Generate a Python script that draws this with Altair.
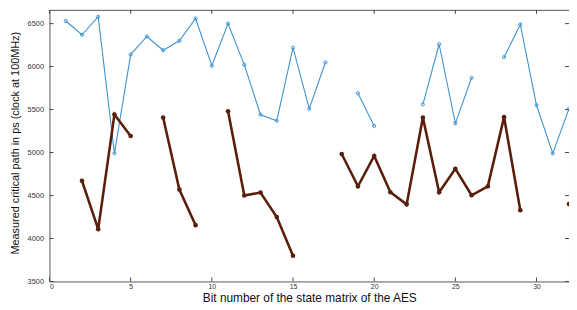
import altair as alt
import pandas as pd

bits = list(range(1, 33))
blue_vals = [6530, 6370, 6580, 4990, 6140, 6350, 6190, 6300, 6560, 6010, 6500, 6020, 5440, 5370, 6220, 5510, 6050,
             None, 5690, 5310, None, None, 5560, 6260, 5340, 5870, None, 6110, 6490, 5550, 4990, 5510]
brown_vals = [None, 4672, 4109, 5443, 5193, None, 5408, 4569, 4155, None, 5480, 4500, 4534, 4250, 3799, None, None,
              4983, 4607, 4960, 4538, 4397, 5408, 4538, 4810, 4503, 4607, 5412, 4328, None, None, 4400]
x_ticks = [0, 5, 10, 15, 20, 25, 30]
y_ticks = [3500, 4000, 4500, 5000, 5500, 6000, 6500]

W, H = 526, 275
XDOM = [0, 32]
YDOM = [3500, 6660]
FONT = "Liberation Sans"

df = pd.DataFrame({"bit": bits, "blue": blue_vals, "brown": brown_vals})

xs = alt.Scale(domain=XDOM, nice=False, zero=False)
ys = alt.Scale(domain=YDOM, nice=False, zero=False)

xaxis = alt.Axis(values=x_ticks, format="d", tickSize=0, domain=False, grid=False, labelFontSize=7,
                 labelFont=FONT, labelColor="#333", labelPadding=1,
                 title="Bit number of the state matrix of the AES",
                 titleFont=FONT, titleFontSize=12, titleFontWeight="normal", titleColor="#111",
                 titleY=11, titleBaseline="top")
yaxis = alt.Axis(values=y_ticks, format="d", tickSize=0, domain=False, grid=False, labelFontSize=7.5,
                 labelFont=FONT, labelColor="#333", labelPadding=6,
                 title="Measured critical path in ps (clock at 100MHz)",
                 titleFont=FONT, titleFontSize=11, titleFontWeight="normal", titleColor="#111",
                 titleX=-34, titleY=H / 2 - 3, titleBaseline="middle", titleAlign="center")

base = alt.Chart(df)

blue = base.mark_line(color="#3d93d1", strokeWidth=1.1, clip=True,
                      point=alt.OverlayMarkDef(shape="circle", filled=False, size=10, color="#3d93d1",
                                               strokeWidth=1)).encode(
    x=alt.X("bit:Q", scale=xs, axis=xaxis),
    y=alt.Y("blue:Q", scale=ys, axis=yaxis),
)

brown = base.mark_line(color="#5a1e0c", strokeWidth=2.6, clip=True,
                       point=alt.OverlayMarkDef(shape="circle", filled=True, size=22, color="#5a1e0c")).encode(
    x=alt.X("bit:Q", scale=xs),
    y=alt.Y("brown:Q", scale=ys),
)

xt = pd.DataFrame({"t": x_ticks})
yt = pd.DataFrame({"t": y_ticks})
tick_color = "#444"
xt_bot = alt.Chart(xt).mark_rule(color=tick_color, strokeWidth=1).encode(
    x=alt.X("t:Q", scale=xs), y=alt.value(H), y2=alt.value(H - 4))
xt_top = alt.Chart(xt).mark_rule(color=tick_color, strokeWidth=1).encode(
    x=alt.X("t:Q", scale=xs), y=alt.value(0), y2=alt.value(4))
yt_left = alt.Chart(yt).mark_rule(color=tick_color, strokeWidth=1).encode(
    y=alt.Y("t:Q", scale=ys), x=alt.value(0), x2=alt.value(4))
yt_right = alt.Chart(yt).mark_rule(color=tick_color, strokeWidth=1).encode(
    y=alt.Y("t:Q", scale=ys), x=alt.value(W), x2=alt.value(W - 4))

chart = alt.layer(blue, brown, xt_bot, xt_top, yt_left, yt_right).properties(
    width=W, height=H,
    autosize=alt.AutoSizeParams(type="none"),
    padding={"left": 42, "top": 0, "right": 0, "bottom": 27},
    background="white",
).configure_view(stroke="#555", strokeWidth=1)

chart.save("out.html", embed_options={"renderer": "svg", "actions": False})
